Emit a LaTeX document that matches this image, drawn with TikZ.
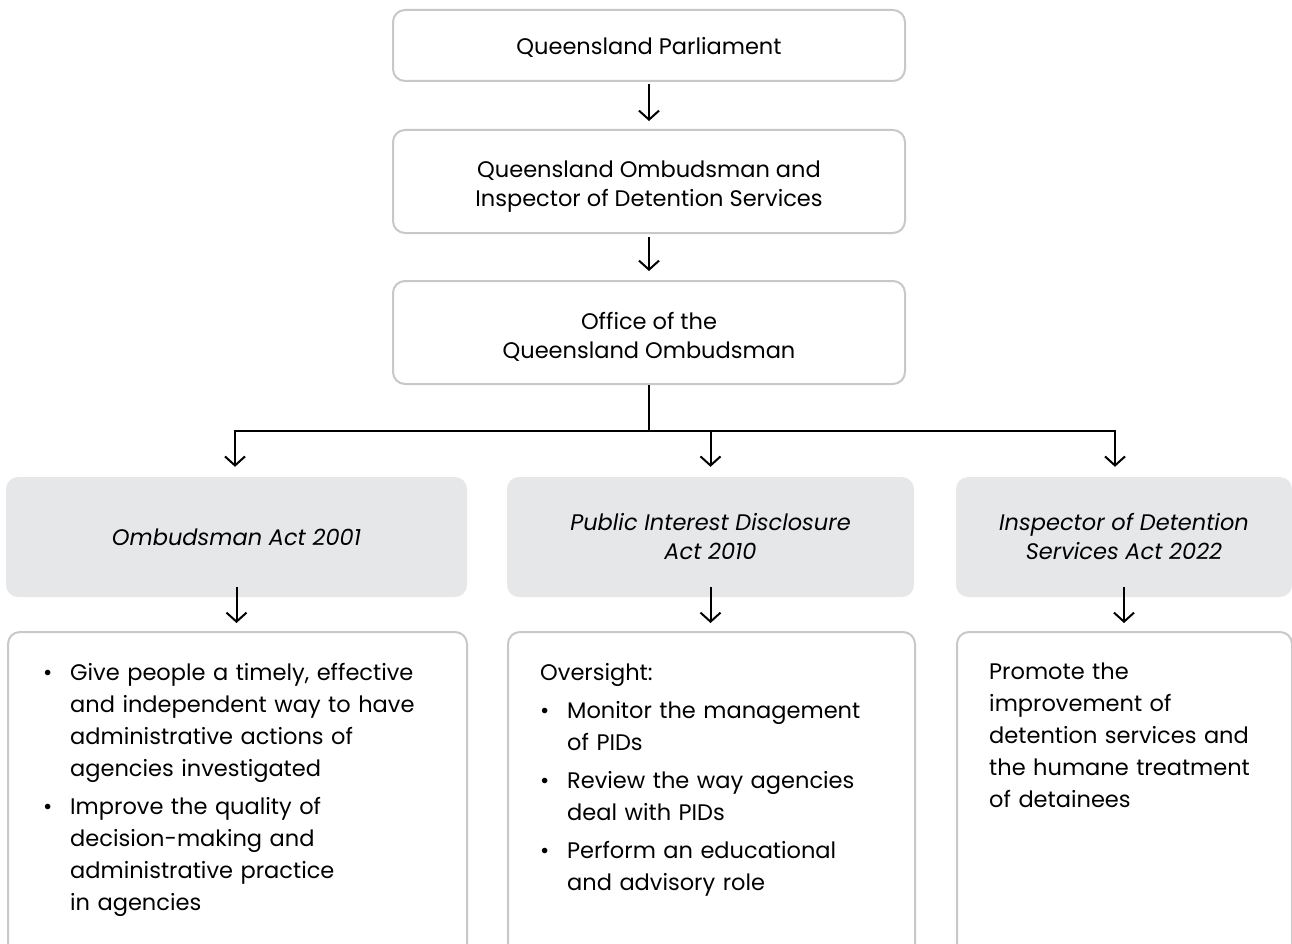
\documentclass[tikz,border=0pt]{standalone}
\usepackage{fontspec}
\setmainfont{Poppins}
\usetikzlibrary{arrows.meta}

\definecolor{boxline}{RGB}{200,200,200}
\definecolor{actfill}{RGB}{230,231,232}

% a bulleted paragraph whose later lines hang under the first word
\newcommand{\bulletpar}{\hangindent=27pt\hangafter=1\noindent\makebox[27pt][l]{\textbullet}}
% extra head room on a first line, to sit the text block a little lower
\newcommand{\headroom}[1]{\rule{0pt}{#1}}

\begin{document}
\begin{tikzpicture}[x=1pt,y=-1pt,
  every node/.style={font=\fontsize{22.5}{29}\selectfont, text=black},
  orgbox/.style={draw=boxline, line width=2pt, rounded corners=12pt, fill=white,
    minimum width=512pt, inner sep=0pt, align=center},
  actbox/.style={fill=actfill, rounded corners=12pt, inner sep=0pt, align=center,
    minimum height=120pt, font=\fontsize{22.5}{29}\selectfont\itshape},
  rolebox/.style={draw=boxline, line width=2pt, rounded corners=12pt, fill=white,
    minimum height=340pt, inner sep=0pt, anchor=north west},
  roletext/.style={anchor=north west, inner sep=0pt, align=left,
    font=\fontsize{22.5}{32}\selectfont,
    execute at begin node={\setlength{\parskip}{6pt}}},
  conn/.style={line width=2pt, draw=black},
  arr/.style={conn, -{Straight Barb[length=9pt,width=20pt,line width=2pt]}}
]
\useasboundingbox (0,0) rectangle (1292,944);
\clip (0,0) rectangle (1292,944);

% chain of offices
\node[orgbox, minimum height=71pt] (parl) at (649,45.5) {\headroom{20pt}Queensland Parliament};
\node[orgbox, minimum height=103pt] (qo) at (649,181.5) {\headroom{26pt}Queensland Ombudsman and\\Inspector of Detention Services};
\node[orgbox, minimum height=103pt] (office) at (649,332.5) {\headroom{26pt}Office of the\\Queensland Ombudsman};

% governing acts
\node[actbox, minimum width=461pt] (act1) at (236.5,537) {Ombudsman Act 2001};
\node[actbox, minimum width=407pt] (act2) at (710.5,537) {Public Interest Disclosure\\Act 2010};
\node[actbox, minimum width=336pt] (act3) at (1124,537) {Inspector of Detention\\Services Act 2022};

% functions under each act
\node[rolebox, minimum width=459pt] (role1) at (7,631) {};
\node[rolebox, minimum width=407pt] (role2) at (507,631) {};
\node[rolebox, minimum width=335pt] (role3) at (956,631) {};

\node[roletext, text width=400pt] (txt1) at ([xshift=36pt,yshift=-32pt]role1.north west) {%
  \bulletpar Give people a timely, effective\newline and independent way to have\newline administrative actions of\newline agencies investigated\par
  \bulletpar Improve the quality of\newline decision-making and\newline administrative practice\newline in agencies\par};
\node[roletext, text width=360pt] (txt2) at ([xshift=33pt,yshift=-32pt]role2.north west) {%
  Oversight:\par
  \bulletpar Monitor the management\newline of PIDs\par
  \bulletpar Review the way agencies\newline deal with PIDs\par
  \bulletpar Perform an educational\newline and advisory role\par};
\node[roletext, text width=290pt] (txt3) at ([xshift=33pt,yshift=-32pt]role3.north west) {%
  Promote the\newline improvement of\newline detention services and\newline the humane treatment\newline of detainees\par};

% connectors
\draw[arr, shorten <=2pt, shorten >=8pt] (parl.south) -- (qo.north);
\draw[arr, shorten <=3pt, shorten >=9pt] (qo.south) -- (office.north);
\coordinate (bus) at (649,431);
\draw[conn] (office.south) -- (bus);
\draw[arr, shorten >=10pt] (bus) -| ([xshift=-1.5pt]act1.north);
\draw[arr, shorten >=10pt] (bus) -| (act2.north);
\draw[arr, shorten >=10pt] (bus) -| ([xshift=-9pt]act3.north);
\draw[arr, shorten >=8pt] ([yshift=10pt]act1.south) -- (act1.south |- role1.north);
\draw[arr, shorten >=8pt] ([yshift=10pt]act2.south) -- (act2.south |- role2.north);
\draw[arr, shorten >=8pt] ([yshift=10pt]act3.south) -- (act3.south |- role3.north);
\end{tikzpicture}
\end{document}
